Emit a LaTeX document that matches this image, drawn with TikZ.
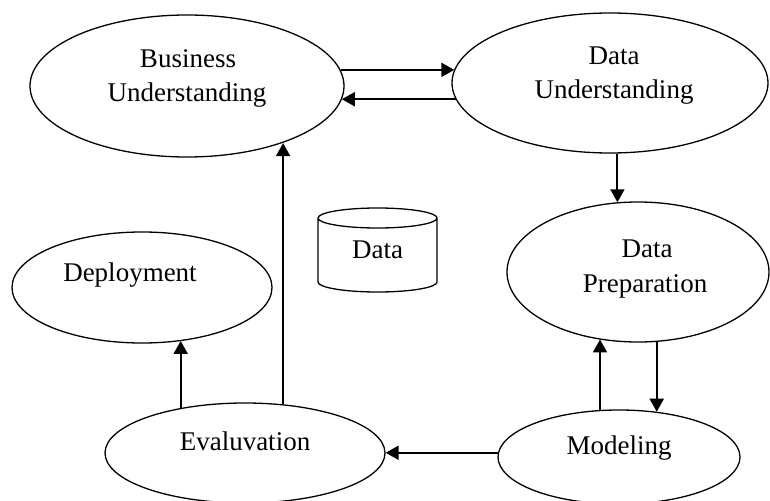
\documentclass[tikz,border=0pt]{standalone}
\usepackage{fontspec}
\setmainfont{Liberation Serif}
\usetikzlibrary{shapes.geometric,arrows.meta,calc}
\begin{document}
\begin{tikzpicture}[x=1pt,y=-1pt,
  stage/.style={draw, ellipse, inner sep=0pt, line width=1.3pt},
  lbl/.style={anchor=base, inner sep=0pt, font=\fontsize{27pt}{32pt}\selectfont},
  arr/.style={line width=2pt, -{Triangle[length=13pt,width=14pt]}}]
\useasboundingbox (0,0) rectangle (770,500);
\clip (0,0) rectangle (770,500);
% stages
\node[stage, minimum width=314pt, minimum height=142pt] (bu) at (187,86) {};
\node[stage, minimum width=316pt, minimum height=140pt] (du) at (610,83) {};
\node[stage, minimum width=262pt, minimum height=140pt] (dp) at (638,272) {};
\node[stage, minimum width=260pt, minimum height=111pt] (dep) at (142,287.5) {};
\node[stage, minimum width=280pt, minimum height=100pt] (ev) at (245,453) {};
\node[stage, minimum width=242pt, minimum height=94pt] (mod) at (619,457) {};
% labels
\node[lbl] (bu1) at (188,68) {Business};
\node[lbl] (bu2) at (187,102) {Understanding};
\node[lbl] (du1) at (614,65) {Data};
\node[lbl] (du2) at (614,99) {Understanding};
\node[lbl] (dp1) at (647,257) {Data};
\node[lbl] (dp2) at (645,292) {Preparation};
\node[lbl] (dep1) at (130,281) {Deployment};
\node[lbl] (ev1) at (245,450) {Evaluvation};
\node[lbl] (mod1) at (619,454) {Modeling};
% data store
\draw[line width=1.3pt] (318,218) arc[start angle=180, end angle=360, x radius=59.5pt, y radius=10pt]
  arc[start angle=0, end angle=180, x radius=59.5pt, y radius=10pt]
  -- (318,282) arc[start angle=180, end angle=360, x radius=59.5pt, y radius=10pt] -- (437,218);
\node[lbl] (data) at (377.5,258) {Data};
% connectors
\draw[arr] (bu.6) -- (du.175 |- bu.6);
\draw[arr] (du.186) -- (bu.-5 |- du.186);
\draw[arr] (du.-84) -- (du.-84 |- dp.107);
\draw[arr] (dp.-75) -- (dp.-75 |- mod.50);
\draw[arr] (mod.112) -- (mod.112 |- dp.240);
\draw[arr] (mod.178) -- (ev.east |- mod.178);
\draw[arr] (ev.52) -- (ev.52 |- bu.-31);
\draw[arr] (ev.145) -- (ev.145 |- dep.-53);
\end{tikzpicture}
\end{document}
